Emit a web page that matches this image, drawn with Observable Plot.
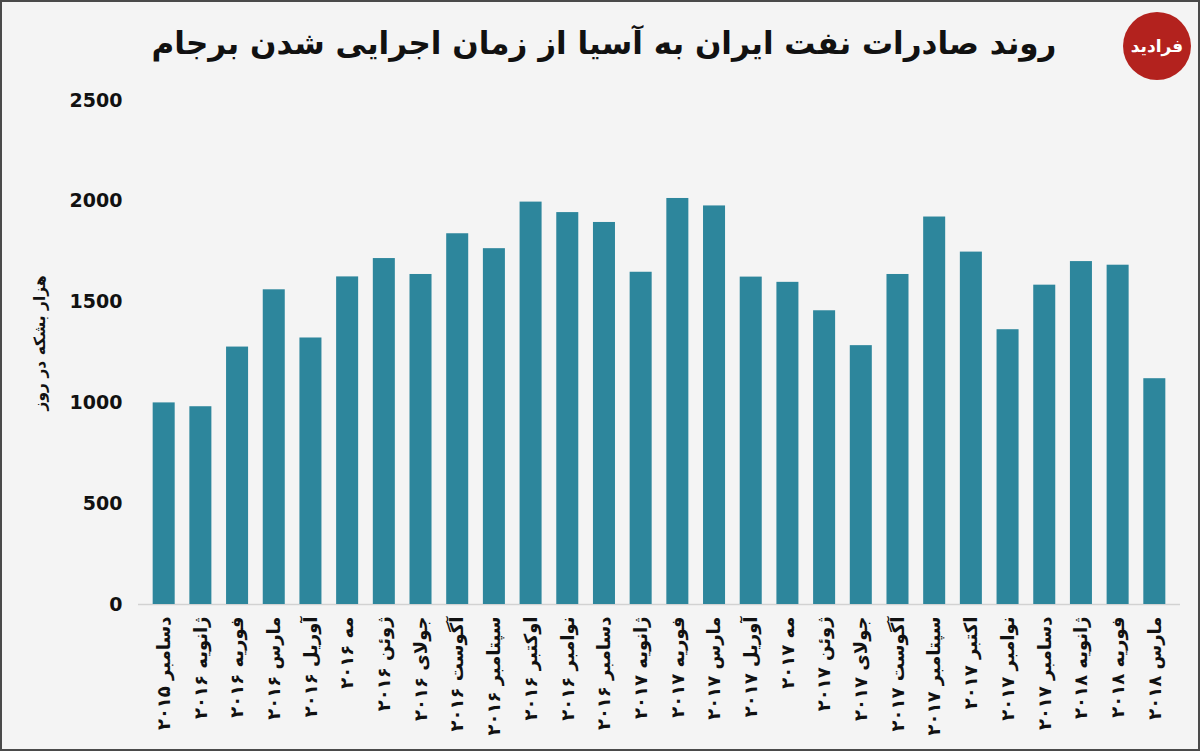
<!DOCTYPE html>
<html>
<head>
<meta charset="utf-8">
<script src="https://cdn.jsdelivr.net/npm/d3@7"></script>
<script src="https://cdn.jsdelivr.net/npm/@observablehq/plot@0.6"></script>
<style>
  html, body { margin: 0; padding: 0; background: #ffffff; }
  #frame {
    position: relative;
    width: 1200px; height: 751px;
    box-sizing: border-box;
    border: 2px solid #4a4a4a;
    background: #f4f4f4;
    overflow: hidden;
  }
  #title {
    height: 83px;
    line-height: 83px;
    text-align: center;
    font-family: "DejaVu Sans", sans-serif;
    font-weight: bold;
    font-size: 31px;
    color: #111;
    direction: rtl;
    padding-left: 8px;
  }
  #logo {
    position: absolute;
    left: 1121px; top: 10px;
    width: 68px; height: 68px;
    border-radius: 50%;
    background: #b3221e;
    color: #fff;
    font-family: "DejaVu Sans", sans-serif;
    font-weight: bold;
    font-size: 17px;
    line-height: 68px;
    text-align: center;
    direction: rtl;
  }
  #chart svg { display: block; }
</style>
</head>
<body>
<div id="frame">
  <div id="title">روند صادرات نفت ایران به آسیا از زمان اجرایی شدن برجام</div>
  <div id="logo">فرادید</div>
  <div id="chart"></div>
</div>
<script>
const months = [
  "دسامبر ۲۰۱۵", "ژانویه ۲۰۱۶", "فوریه ۲۰۱۶", "مارس ۲۰۱۶", "آوریل ۲۰۱۶",
  "مه ۲۰۱۶", "ژوئن ۲۰۱۶", "جولای ۲۰۱۶", "آگوست ۲۰۱۶", "سپتامبر ۲۰۱۶",
  "اوکتبر ۲۰۱۶", "نوامبر ۲۰۱۶", "دسامبر ۲۰۱۶", "ژانویه ۲۰۱۷", "فوریه ۲۰۱۷",
  "مارس ۲۰۱۷", "آوریل ۲۰۱۷", "مه ۲۰۱۷", "ژوئن ۲۰۱۷", "جولای ۲۰۱۷",
  "آگوست ۲۰۱۷", "سپتامبر ۲۰۱۷", "اکتبر ۲۰۱۷", "نوامبر ۲۰۱۷", "دسامبر ۲۰۱۷",
  "ژانویه ۲۰۱۸", "فوریه ۲۰۱۸", "مارس ۲۰۱۸"
];
const exports = [
  1000, 981, 1277, 1561, 1322,
  1625, 1716, 1637, 1839, 1765,
  1996, 1944, 1895, 1648, 2014,
  1977, 1624, 1598, 1457, 1284,
  1637, 1922, 1748, 1363, 1584,
  1701, 1683, 1120
];
const yTicks = [0, 500, 1000, 1500, 2000, 2500];
const yLabel = "هزار بشکه در روز";

const data = months.map((m, i) => ({month: m, value: exports[i]}));

const chart = Plot.plot({
  width: 1196,
  height: 664,
  marginTop: 15,
  marginBottom: 145,
  marginLeft: 136,
  marginRight: 18,
  style: {background: "transparent", fontFamily: "DejaVu Sans, sans-serif", color: "#111"},
  x: {domain: months, padding: 0.4, round: false, label: null},
  y: {domain: [0, 2500], label: null},
  marks: [
    Plot.ruleY([0], {stroke: "#d2d2d2", strokeWidth: 1.5}),
    Plot.barY(data, {x: "month", y: "value", fill: "#2d869c"}),
    Plot.axisX({
      tickRotate: -90, tickSize: 0, tickPadding: 12,
      fontSize: 18, fontWeight: "bold", label: null
    }),
    Plot.axisY({
      ticks: yTicks, tickFormat: d3.format("d"), tickSize: 0, tickPadding: 16,
      fontSize: 19, fontWeight: "bold", label: null
    }),
    Plot.text([yLabel], {
      frameAnchor: "left", dx: -98, dy: 58, rotate: -90,
      fontSize: 15.5, fontWeight: "bold", fill: "#111"
    })
  ]
});
document.getElementById("chart").appendChild(chart);
</script>
</body>
</html>
